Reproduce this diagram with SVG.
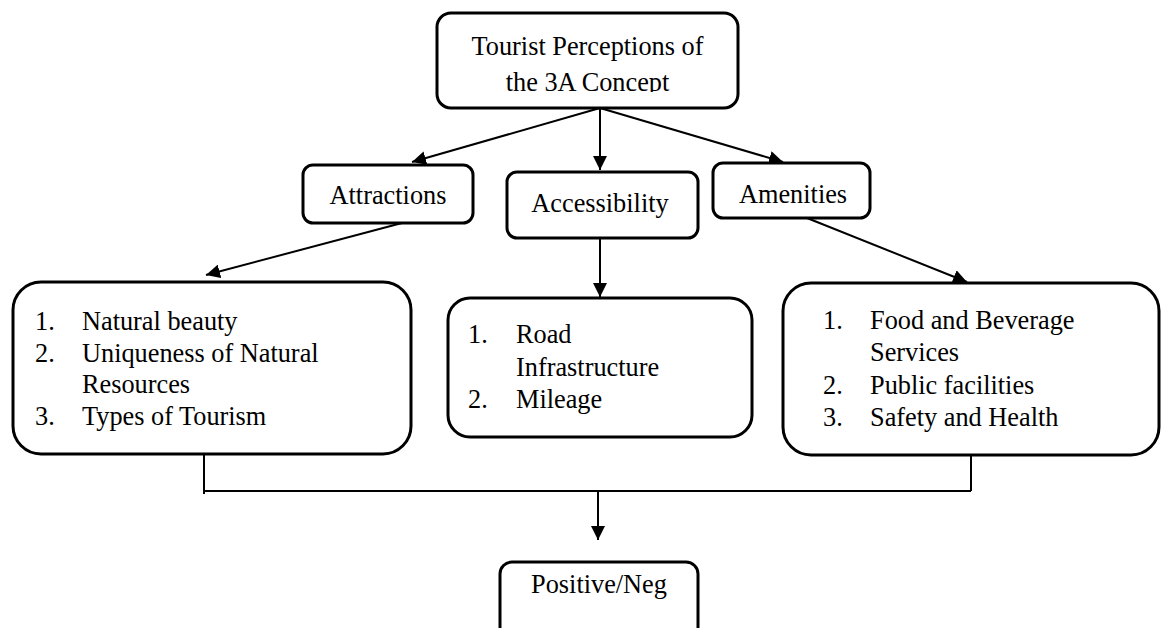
<svg xmlns="http://www.w3.org/2000/svg" width="1161" height="628" viewBox="0 0 1161 628">
<style>
.box{fill:#fff;stroke:#000;stroke-width:3}
.t{font-family:"Liberation Serif","Times New Roman",serif;font-size:26.3px;fill:#000}
.c{text-anchor:middle}
.ln{fill:none;stroke:#000;stroke-width:2}
</style>
<defs>
<marker id="ah" viewBox="0 0 10 10" refX="10" refY="5" markerWidth="7" markerHeight="7" orient="auto" markerUnits="strokeWidth">
<path d="M0,0 L10,5 L0,10 z" fill="#000"/>
</marker>
<clipPath id="topclip"><rect x="437" y="13" width="301" height="79"/></clipPath>
</defs>
<rect width="1161" height="628" fill="#fff"/>
<g id="connectors">
<path class="ln" d="M600,108 L412,162" marker-end="url(#ah)"/>
<path class="ln" d="M600,108 L600,170" marker-end="url(#ah)"/>
<path class="ln" d="M600,108 L783,162" marker-end="url(#ah)"/>
<path class="ln" d="M402,223 L206,275" marker-end="url(#ah)"/>
<path class="ln" d="M600,227 L600,297" marker-end="url(#ah)"/>
<path class="ln" d="M807,218 L967,282" marker-end="url(#ah)"/>
<path class="ln" d="M204,455 L204,494 M204,491 L971,491 M971,455 L971,491"/>
<path class="ln" d="M598,491 L598,540" marker-end="url(#ah)"/>
</g>
<g id="top">
<rect class="box" x="437" y="13" width="301" height="95" rx="14"/>
<g clip-path="url(#topclip)">
<text class="t c" x="587.5" y="55">Tourist Perceptions of</text>
<text class="t c" x="587.5" y="91">the 3A Concept</text>
</g>
</g>
<g id="attractions">
<rect class="box" x="303" y="165" width="170" height="58" rx="10"/>
<text class="t c" x="388" y="204">Attractions</text>
</g>
<g id="accessibility">
<rect class="box" x="507" y="172" width="191" height="66" rx="10"/>
<text class="t c" x="600" y="212">Accessibility</text>
</g>
<g id="amenities">
<rect class="box" x="713" y="163" width="157" height="55" rx="10"/>
<text class="t" x="739" y="203">Amenities</text>
</g>
<g id="attractions-list">
<rect class="box" x="13" y="282" width="398" height="172" rx="28"/>
<text class="t" x="35" y="330">1.</text><text class="t" x="82" y="330">Natural beauty</text>
<text class="t" x="35" y="362">2.</text><text class="t" x="82" y="362">Uniqueness of Natural</text>
<text class="t" x="82" y="393">Resources</text>
<text class="t" x="35" y="425">3.</text><text class="t" x="82" y="425">Types of Tourism</text>
</g>
<g id="accessibility-list">
<rect class="box" x="448" y="298" width="304" height="139" rx="22"/>
<text class="t" x="468" y="343">1.</text><text class="t" x="516" y="343">Road</text>
<text class="t" x="516" y="376">Infrastructure</text>
<text class="t" x="468" y="408">2.</text><text class="t" x="516" y="408">Mileage</text>
</g>
<g id="amenities-list">
<rect class="box" x="783" y="283" width="376" height="172" rx="28"/>
<text class="t" x="823" y="329">1.</text><text class="t" x="870" y="329">Food and Beverage</text>
<text class="t" x="870" y="361">Services</text>
<text class="t" x="823" y="394">2.</text><text class="t" x="870" y="394">Public facilities</text>
<text class="t" x="823" y="426">3.</text><text class="t" x="870" y="426">Safety and Health</text>
</g>
<g id="outcome">
<rect class="box" x="500" y="562" width="198" height="90" rx="12"/>
<text class="t c" x="599" y="593">Positive/Neg</text>
</g>
</svg>
